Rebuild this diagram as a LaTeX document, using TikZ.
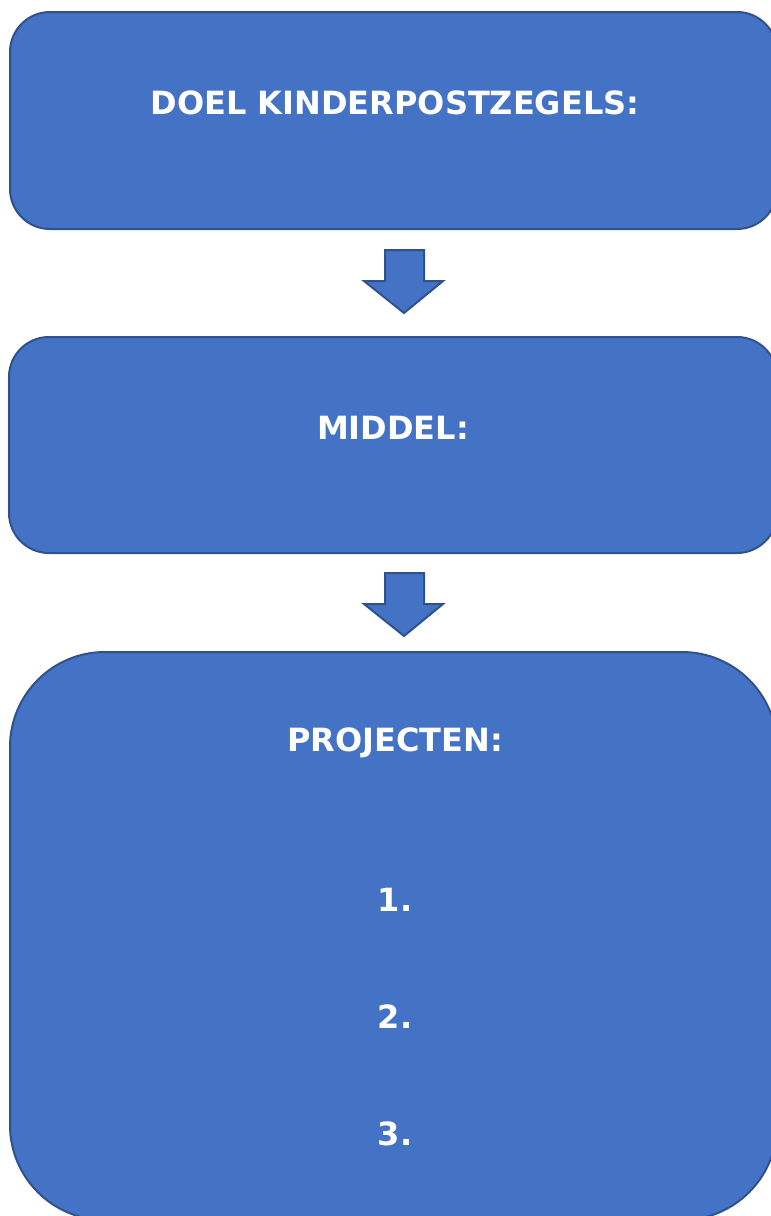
\documentclass[tikz,border=0pt]{standalone}
\usepackage{fontspec}
\setmainfont{DejaVu Sans}
\definecolor{boxfill}{HTML}{4472C4}
\definecolor{boxline}{HTML}{2F528F}
\begin{document}
\begin{tikzpicture}[x=1pt,y=-1pt,
  card/.style={fill=boxfill,draw=boxline,line width=2pt},
  lbl/.style={text=white,font=\bfseries\fontsize{32}{38}\selectfont,inner sep=0pt},
  downarrow/.style={fill=boxfill,draw=boxline,line width=2pt,line join=miter}]
\useasboundingbox (0,0) rectangle (771,1216);
\clip (0,0) rectangle (771,1216);
\draw[card,rounded corners=40pt] (10,12) rectangle (777,229);
\node[lbl] (doel) at (395,103) {DOEL KINDERPOSTZEGELS:};
\draw[downarrow] (385,250) -- (424,250) -- (424,281) -- (443,281) -- (404,313) -- (364,281) -- (385,281) -- cycle;
\draw[card,rounded corners=40pt] (9,337) rectangle (777,553);
\node[lbl] (middel) at (393,428) {MIDDEL:};
\draw[downarrow] (385,573) -- (424,573) -- (424,604) -- (443,604) -- (404,636) -- (364,604) -- (385,604) -- cycle;
\draw[card,rounded corners=95pt] (10,652) rectangle (777,1220);
\node[lbl] (proj) at (395,743) {PROJECTEN:};
\node[lbl] (p1) at (395,900) {1.};
\node[lbl] (p2) at (395,1017) {2.};
\node[lbl] (p3) at (395,1134) {3.};
\end{tikzpicture}
\end{document}
